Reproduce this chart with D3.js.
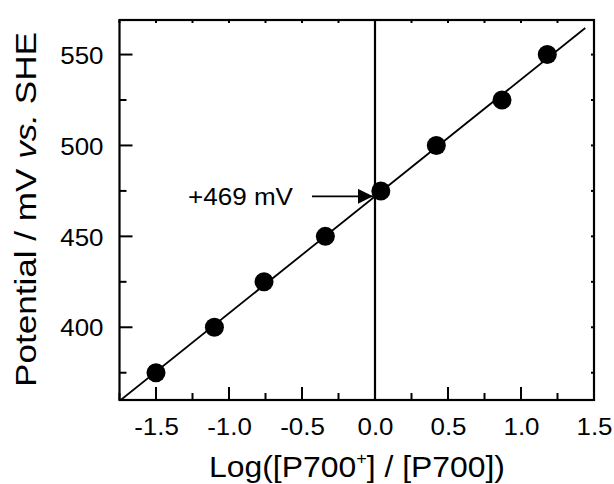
<!DOCTYPE html>
<html>
<head>
<meta charset="utf-8">
<script src="https://cdn.jsdelivr.net/npm/d3@7"></script>
<style>
  body { margin: 0; background: #fff; }
  svg { font-family: "Liberation Sans", Arial, sans-serif; }
</style>
</head>
<body>
<div id="chart"></div>
<script>
// measured points
const logRatio = [-1.50, -1.10, -0.76, -0.34, 0.04, 0.42, 0.87, 1.18];
const potential = [375, 400, 425, 450, 475, 500, 525, 550];

// linear fit: E = intercept + slope * log
const fitSlope = 64.3;
const fitIntercept = 472;
const fitRange = [-1.75, 1.44];

const xTicks = [-1.5, -1.0, -0.5, 0.0, 0.5, 1.0, 1.5];
const xMinor = [-1.75, -1.25, -0.75, -0.25, 0.25, 0.75, 1.25];
const yTicks = [400, 450, 500, 550];
const yMinor = [375, 425, 475, 525];

const width = 614, height = 484;
const margin = { top: 20, right: 20, bottom: 84, left: 119.5 };

const svg = d3.select("#chart").append("svg")
    .attr("width", width)
    .attr("height", height);

const x = d3.scaleLinear().domain([-1.75, 1.5]).range([margin.left, width - margin.right]);
const y = d3.scaleLinear().domain([360, 569]).range([height - margin.bottom, margin.top]);
const x0 = x.range()[0], x1 = x.range()[1], yb = y.range()[0], yt = y.range()[1];

svg.append("clipPath").attr("id", "plot")
  .append("rect")
    .attr("x", x0).attr("y", yt)
    .attr("width", x1 - x0).attr("height", yb - yt);

// tick labels from d3 axes, tick marks drawn separately (inward)
const axBottom = svg.append("g")
    .attr("transform", `translate(0,${yb})`)
    .call(d3.axisBottom(x).tickValues(xTicks).tickSize(0).tickPadding(18)
        .tickFormat(d => d.toFixed(1)));
const axLeft = svg.append("g")
    .attr("transform", `translate(${x0},0)`)
    .call(d3.axisLeft(y).tickValues(yTicks).tickSize(0).tickPadding(16));

[axBottom, axLeft].forEach(g => {
  g.select(".domain").remove();
  g.selectAll("line").remove();
  g.selectAll("text").attr("fill", "#000").attr("font-size", 24)
    .attr("font-family", "'Liberation Sans', Arial, sans-serif")
    .each(function () {
      const w = this.getComputedTextLength();
      d3.select(this).attr("textLength", w * 1.08).attr("lengthAdjust", "spacingAndGlyphs");
    });
});
axLeft.selectAll(".tick text").attr("dy", "0.36em");

const ticks = svg.append("g").attr("stroke", "#000").attr("stroke-width", 2);
// bottom
ticks.selectAll(".xb").data(xTicks.map(v => [v, 13]).concat(xMinor.map(v => [v, 7])))
  .join("line")
    .attr("x1", d => x(d[0])).attr("x2", d => x(d[0]))
    .attr("y1", yb).attr("y2", d => yb - d[1]);
// top
ticks.selectAll(".xt").data(xTicks.concat(xMinor)).join("line")
    .attr("x1", d => x(d)).attr("x2", d => x(d))
    .attr("y1", yt).attr("y2", yt + 3);
// left
ticks.selectAll(".yl").data(yTicks.map(v => [v, 13]).concat(yMinor.map(v => [v, 7])))
  .join("line")
    .attr("y1", d => y(d[0])).attr("y2", d => y(d[0]))
    .attr("x1", x0).attr("x2", d => x0 + d[1]);
// right
ticks.selectAll(".yr").data(yTicks.concat(yMinor)).join("line")
    .attr("y1", d => y(d)).attr("y2", d => y(d))
    .attr("x1", x1).attr("x2", x1 - 3);

// frame
svg.append("rect")
    .attr("x", x0).attr("y", yt)
    .attr("width", x1 - x0).attr("height", yb - yt)
    .attr("fill", "none").attr("stroke", "#000").attr("stroke-width", 2.2);

// vertical line at log = 0
svg.append("line")
    .attr("x1", x(0)).attr("x2", x(0))
    .attr("y1", yb).attr("y2", yt)
    .attr("stroke", "#000").attr("stroke-width", 2.2);

// fit line
svg.append("path")
    .datum(fitRange)
    .attr("clip-path", "url(#plot)")
    .attr("fill", "none").attr("stroke", "#000").attr("stroke-width", 1.8)
    .attr("d", d3.line().x(d => x(d)).y(d => y(fitIntercept + fitSlope * d)));

// points
svg.append("g").selectAll("circle")
  .data(logRatio.map((v, i) => [v, potential[i]]))
  .join("circle")
    .attr("cx", d => x(d[0]))
    .attr("cy", d => y(d[1]))
    .attr("r", 9.5)
    .attr("fill", "#000");

// annotation arrow
svg.append("defs").append("marker")
    .attr("id", "head").attr("viewBox", "0 0 10 10")
    .attr("refX", 10).attr("refY", 5)
    .attr("markerUnits", "userSpaceOnUse")
    .attr("markerWidth", 18).attr("markerHeight", 15)
    .attr("orient", "auto")
  .append("path").attr("d", "M0,0 L10,5 L0,10 Z").attr("fill", "#000");

const arrowY = y(fitIntercept);
svg.append("line")
    .attr("x1", 312).attr("x2", x(0) - 2)
    .attr("y1", arrowY).attr("y2", arrowY)
    .attr("stroke", "#000").attr("stroke-width", 1.8)
    .attr("marker-end", "url(#head)");

svg.append("text")
    .attr("x", 188).attr("y", arrowY + 9)
    .attr("font-size", 24)
    .attr("textLength", 105).attr("lengthAdjust", "spacingAndGlyphs")
    .text("+469 mV");

// axis labels
const xl = svg.append("text")
    .attr("x", 209)
    .attr("y", 477)
    .attr("font-size", 30)
    .attr("textLength", 296).attr("lengthAdjust", "spacingAndGlyphs");
xl.append("tspan").text("Log([P700");
xl.append("tspan").attr("font-size", 17).attr("dy", -13).text("+");
xl.append("tspan").attr("dy", 13).text("] / [P700])");

const yl = svg.append("text")
    .attr("transform", `translate(36,387) rotate(-90)`)
    .attr("font-size", 30)
    .attr("textLength", 355).attr("lengthAdjust", "spacingAndGlyphs");
yl.append("tspan").text("Potential / mV ");
yl.append("tspan").attr("font-style", "italic").text("vs.");
yl.append("tspan").text(" SHE");
</script>
</body>
</html>
